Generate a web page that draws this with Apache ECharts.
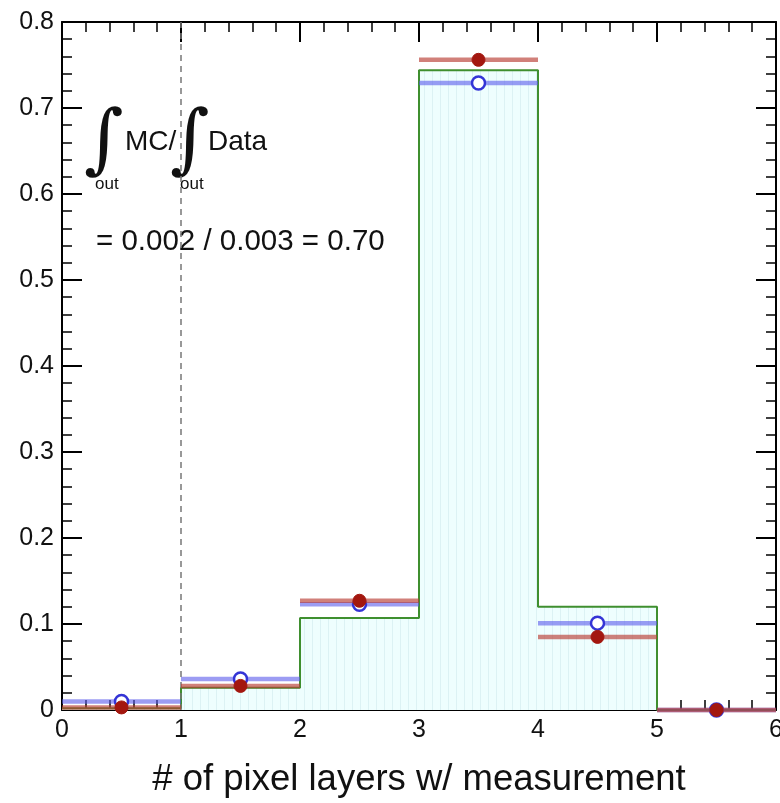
<!DOCTYPE html>
<html>
<head>
<meta charset="utf-8">
<script src="https://cdn.jsdelivr.net/npm/echarts@6/dist/echarts.min.js"></script>
<style>
  html, body { margin: 0; padding: 0; background: #fff; }
  #chart { width: 780px; height: 803px; }
</style>
</head>
<body>
<div id="chart"></div>
<script>
  // bin edges 0..6, one value per bin
  var binEdges = [0, 1, 2, 3, 4, 5, 6];
  var mcValues = [0.002, 0.026, 0.107, 0.744, 0.120, 0.000];
  var dataValues = [0.003, 0.028, 0.127, 0.756, 0.085, 0.000];
  var altValues = [0.010, 0.036, 0.123, 0.729, 0.101, 0.000];
  var yTicks = ['0', '0.1', '0.2', '0.3', '0.4', '0.5', '0.6', '0.7', '0.8'];

  var chart = echarts.init(document.getElementById('chart'));

  // faint vertical hatching for the MC fill
  var hatch = document.createElement('canvas');
  hatch.width = 8;
  hatch.height = 8;
  var hctx = hatch.getContext('2d');
  hctx.fillStyle = '#eefefe';
  hctx.fillRect(0, 0, 8, 8);
  hctx.fillStyle = '#dcf2f4';
  hctx.fillRect(0, 0, 1, 8);

  // step points for the histogram outline
  var mcStep = [];
  for (var i = 0; i < mcValues.length; i++) {
    mcStep.push([binEdges[i], mcValues[i]]);
  }
  mcStep.push([binEdges[binEdges.length - 1], mcValues[mcValues.length - 1]]);

  function binPoints(vals) {
    return vals.map(function (v, i) {
      return [binEdges[i], binEdges[i + 1], v];
    });
  }

  function errBarSeries(vals, lineColor, dotColor, hollow) {
    return {
      type: 'custom',
      xAxisIndex: 0,
      yAxisIndex: 0,
      z: hollow ? 4 : 5,
      data: binPoints(vals),
      encode: { x: [0, 1], y: 2 },
      renderItem: function (params, api) {
        var a = api.coord([api.value(0), api.value(2)]);
        var b = api.coord([api.value(1), api.value(2)]);
        var c = api.coord([(api.value(0) + api.value(1)) / 2, api.value(2)]);
        return {
          type: 'group',
          children: [
            { type: 'line', shape: { x1: a[0], y1: a[1], x2: b[0], y2: b[1] },
              style: { stroke: lineColor, lineWidth: 4.5 } },
            { type: 'circle', shape: { cx: c[0], cy: c[1], r: 6.5 },
              style: hollow ? { fill: '#fff', stroke: dotColor, lineWidth: 2.5 }
                            : { fill: dotColor, stroke: dotColor, lineWidth: 1 } }
          ]
        };
      }
    };
  }

  var labelFont = { fontFamily: 'Liberation Sans', fontSize: 25, color: '#111' };

  function xAxisCfg(pos) {
    return {
      type: 'value', min: 0, max: 6, interval: 1, position: pos,
      axisLine: { onZero: false, lineStyle: { color: '#000', width: 2 } },
      axisTick: { inside: true, length: 20, lineStyle: { color: '#000', width: 2 } },
      minorTick: { show: true, splitNumber: 5, length: 10, lineStyle: { color: '#000', width: 1.5 } },
      axisLabel: { show: false },
      splitLine: { show: false }
    };
  }
  function yAxisCfg(pos) {
    return {
      type: 'value', min: 0, max: 0.8, interval: 0.1, position: pos,
      axisLine: { show: true, onZero: false, lineStyle: { color: '#000', width: 2 } },
      axisTick: { show: true, inside: true, length: 20, lineStyle: { color: '#000', width: 2 } },
      minorTick: { show: true, splitNumber: 5, length: 10, lineStyle: { color: '#000', width: 1.5 } },
      axisLabel: { show: false },
      splitLine: { show: false }
    };
  }

  var xBottom = xAxisCfg('bottom');
  xBottom.name = '# of pixel layers w/ measurement';
  xBottom.nameLocation = 'middle';
  xBottom.nameGap = 51;
  xBottom.nameTextStyle = { fontFamily: 'Liberation Sans', fontSize: 36.5, color: '#111' };
  xBottom.axisLabel = Object.assign({ show: true, margin: 8 }, labelFont);

  var yLeft = yAxisCfg('left');
  yLeft.axisLabel = Object.assign({
    show: true,
    margin: 8,
    formatter: function (v) { return yTicks[Math.round(v * 10)]; }
  }, labelFont);

  chart.setOption({
    animation: false,
    grid: { left: 62, right: 4, top: 22, bottom: 93, show: false, outerBoundsMode: 'none' },
    xAxis: [xBottom, xAxisCfg('top')],
    yAxis: [yLeft, yAxisCfg('right')],
    series: [{
      type: 'line',
      step: 'end',
      data: mcStep,
      symbol: 'none',
      z: 2,
      lineStyle: { color: '#3f8f2f', width: 2 },
      areaStyle: { color: { image: hatch, repeat: 'repeat' }, opacity: 1 },
      markLine: {
        silent: true,
        symbol: 'none',
        label: { show: false },
        lineStyle: { color: '#777', type: [6, 5], width: 1.5 },
        data: [{ xAxis: 1 }]
      }
    },
    errBarSeries(altValues, 'rgba(90,90,235,0.6)', '#3434d6', true),
    errBarSeries(dataValues, 'rgba(185,60,50,0.65)', '#a3170f', false)
    ],
    graphic: [
      { type: 'text', left: 84, top: 106, style: { text: '\u222B', font: 'italic 76px "DejaVu Serif"', fill: '#111' } },
      { type: 'text', left: 125, top: 128, style: { text: 'MC/', font: '28px "Liberation Sans"', fill: '#111' } },
      { type: 'text', left: 170, top: 106, style: { text: '\u222B', font: 'italic 76px "DejaVu Serif"', fill: '#111' } },
      { type: 'text', left: 208, top: 128, style: { text: 'Data', font: '28px "Liberation Sans"', fill: '#111' } },
      { type: 'text', left: 95, top: 176, style: { text: 'out', font: '17px "Liberation Sans"', fill: '#111' } },
      { type: 'text', left: 180, top: 176, style: { text: 'out', font: '17px "Liberation Sans"', fill: '#111' } },
      { type: 'text', left: 96, top: 227, style: { text: '= 0.002 / 0.003 = 0.70', font: '29.5px "Liberation Sans"', fill: '#111' } }
    ]
  });
</script>
</body>
</html>
